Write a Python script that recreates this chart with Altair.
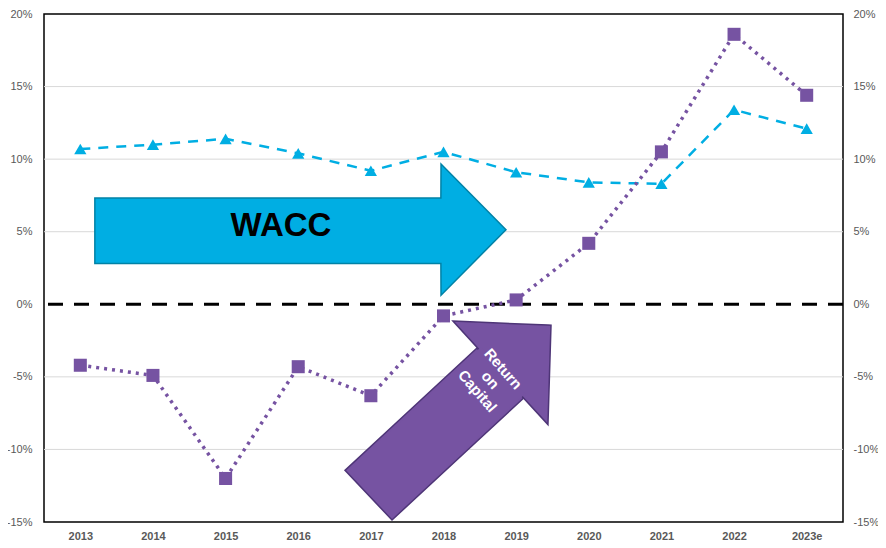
import altair as alt
import pandas as pd

years = ['2013', '2014', '2015', '2016', '2017', '2018', '2019', '2020', '2021', '2022', '2023e']
wacc = [10.7, 11.0, 11.4, 10.4, 9.2, 10.5, 9.1, 8.4, 8.3, 13.4, 12.1]
roc = [-4.2, -4.9, -12.0, -4.3, -6.3, -0.8, 0.3, 4.2, 10.5, 18.6, 14.4]
y_ticks = [-15, -10, -5, 0, 5, 10, 15, 20]
grid_values = [-10, -5, 5, 10, 15]

# Annotation arrows, in data units (x = year index, y = percent)
wacc_arrow_x = [0.20, 4.964, 4.966, 5.86]
wacc_arrow_top = [7.33, 7.33, 9.66, 5.14]
wacc_arrow_bottom = [2.81, 2.81, 0.62, 5.14]

roc_shaft = [(3.644, -11.44), (5.461, -3.01), (6.108, -6.44), (4.291, -14.86)]
roc_head = [(5.130, -1.16), (6.480, -1.44), (6.438, -8.29)]

BLUE = '#00AEE3'
BLUE_DARK = '#0082A6'
PURPLE = '#7653A2'
PURPLE_DARK = '#4E3577'
LABEL = '#595959'


def convex_rows(verts):
    xs = sorted(set(v[0] for v in verts))
    rows = []
    n = len(verts)
    for x in xs:
        ys = []
        for a in range(n):
            (x1, y1), (x2, y2) = verts[a], verts[(a + 1) % n]
            if min(x1, x2) - 1e-9 <= x <= max(x1, x2) + 1e-9:
                if abs(x1 - x2) < 1e-9:
                    ys += [y1, y2]
                else:
                    ys.append(y1 + (y2 - y1) * (x - x1) / (x2 - x1))
        rows.append({'x': x, 'y': max(ys), 'y2': min(ys)})
    return pd.DataFrame(rows)


def lerp(p, q, t):
    return (p[0] + (q[0] - p[0]) * t, p[1] + (q[1] - p[1]) * t)


def shift(p, d, t):
    return (p[0] + d[0] * t, p[1] + d[1] * t)


A, B, F, G = roc_shaft
along = (B[0] - A[0], B[1] - A[1])
cover = [
    shift(lerp(A, G, 0.03), along, 0.02),
    shift(lerp(B, F, 0.03), along, 0.02),
    shift(lerp(F, B, 0.03), along, 0.02),
    shift(lerp(G, A, 0.03), along, 0.02),
]

df = pd.DataFrame({'i': list(range(len(years))), 'year': years, 'wacc': wacc, 'roc': roc})

label_expr = '[' + ','.join("'%s'" % y for y in years) + '][datum.value]'

xscale = alt.Scale(domain=[-0.5, len(years) - 0.5], nice=False, zero=False)
yscale = alt.Scale(domain=[-15, 20], nice=False, zero=False)

x_axis = alt.Axis(values=list(range(len(years))), labelExpr=label_expr, grid=False, ticks=False,
                  domain=False, labelPadding=8, labelFont='Liberation Sans', labelFontWeight='bold',
                  labelFontSize=11, labelColor=LABEL, title=None)
y_axis_left = alt.Axis(values=y_ticks, labelExpr="datum.value + '%'", grid=False, ticks=False,
                       domain=False, labelPadding=12, orient='left',
                       labelFont='Liberation Sans', labelFontSize=11, labelColor=LABEL, title=None)
y_axis_right = alt.Axis(values=y_ticks, labelExpr="datum.value + '%'", grid=False, ticks=False,
                        domain=False, labelPadding=10, orient='right',
                        labelFont='Liberation Sans', labelFontSize=11, labelColor=LABEL, title=None)


def X(field):
    return alt.X(field, scale=xscale, axis=x_axis)


def Y(field):
    return alt.Y(field, scale=yscale, axis=None)


# left axis carrier
axes_left = alt.Chart(df).mark_point(opacity=0).encode(
    x=X('i:Q'),
    y=alt.Y('wacc:Q', scale=yscale, axis=y_axis_left),
)

grid = alt.Chart(pd.DataFrame({'g': grid_values})).mark_rule(color='#d9d9d9', strokeWidth=1).encode(
    y=Y('g:Q'),
)

# WACC arrow
wacc_df = pd.DataFrame({'x': wacc_arrow_x, 'y': wacc_arrow_top, 'y2': wacc_arrow_bottom})
wacc_arrow = alt.Chart(wacc_df).mark_area(color=BLUE, stroke=BLUE_DARK, strokeWidth=1.5, opacity=1).encode(
    x=X('x:Q'), y=Y('y:Q'), y2='y2:Q',
)

wacc_text = alt.Chart(pd.DataFrame({'x': [2.763], 'y': [5.38], 't': ['WACC']})).mark_text(
    font='Liberation Sans', fontWeight='bold', fontSize=33, color='black', baseline='middle', align='center'
).encode(x=X('x:Q'), y=Y('y:Q'), text='t:N')


def poly_layer(verts, fill, stroke=None):
    kw = dict(color=fill, opacity=1)
    if stroke:
        kw.update(stroke=stroke, strokeWidth=1.5)
    else:
        kw.update(strokeWidth=0)
    return alt.Chart(convex_rows(verts)).mark_area(**kw).encode(
        x=X('x:Q'), y=Y('y:Q'), y2='y2:Q',
    )


roc_shaft_layer = poly_layer(roc_shaft, PURPLE, PURPLE_DARK)
roc_head_layer = poly_layer(roc_head, PURPLE, PURPLE_DARK)
roc_cover_layer = poly_layer(cover, PURPLE)

roc_text = alt.Chart(pd.DataFrame({'x': [5.82], 'y': [-4.45], 't': ['Return\non\nCapital']})).mark_text(
    font='Liberation Sans', fontWeight='bold', fontSize=15, color='white', baseline='middle',
    align='center', angle=49, lineBreak='\n', lineHeight=17
).encode(x=X('x:Q'), y=Y('y:Q'), text='t:N')

zero_line = alt.Chart(pd.DataFrame({'z': [0]})).mark_rule(color='black', strokeWidth=3, strokeDash=[15, 11]).encode(
    y=Y('z:Q'),
)

wacc_line = alt.Chart(df).mark_line(color=BLUE, strokeWidth=2.5, strokeDash=[10, 8]).encode(
    x=X('i:Q'), y=Y('wacc:Q'),
)
wacc_pts = alt.Chart(df).mark_point(shape='triangle-up', filled=True, color=BLUE, size=150, opacity=1).encode(
    x=X('i:Q'), y=Y('wacc:Q'),
)
roc_line = alt.Chart(df).mark_line(color=PURPLE, strokeWidth=3.5, strokeDash=[3, 5]).encode(
    x=X('i:Q'), y=Y('roc:Q'),
)
roc_pts = alt.Chart(df).mark_point(shape='square', filled=True, color=PURPLE, size=170, opacity=1).encode(
    x=X('i:Q'), y=Y('roc:Q'),
)

axes_right = alt.Chart(df).mark_point(opacity=0).encode(
    x=X('i:Q'),
    y=alt.Y('wacc:Q', scale=yscale, axis=y_axis_right),
)

chart = alt.layer(
    axes_left, grid, wacc_arrow, wacc_text, roc_shaft_layer, roc_head_layer, roc_cover_layer, roc_text,
    zero_line, wacc_line, roc_line, wacc_pts, roc_pts, axes_right
).resolve_axis(y='independent').properties(
    width=799, height=508,
    background='white',
    autosize=alt.AutoSizeParams(type='none'),
    padding={'left': 36, 'top': 6, 'right': 35, 'bottom': 20},
).configure_view(stroke='black', strokeWidth=1.5)

chart.save('out.html', embed_options={'renderer': 'svg', 'actions': False})
